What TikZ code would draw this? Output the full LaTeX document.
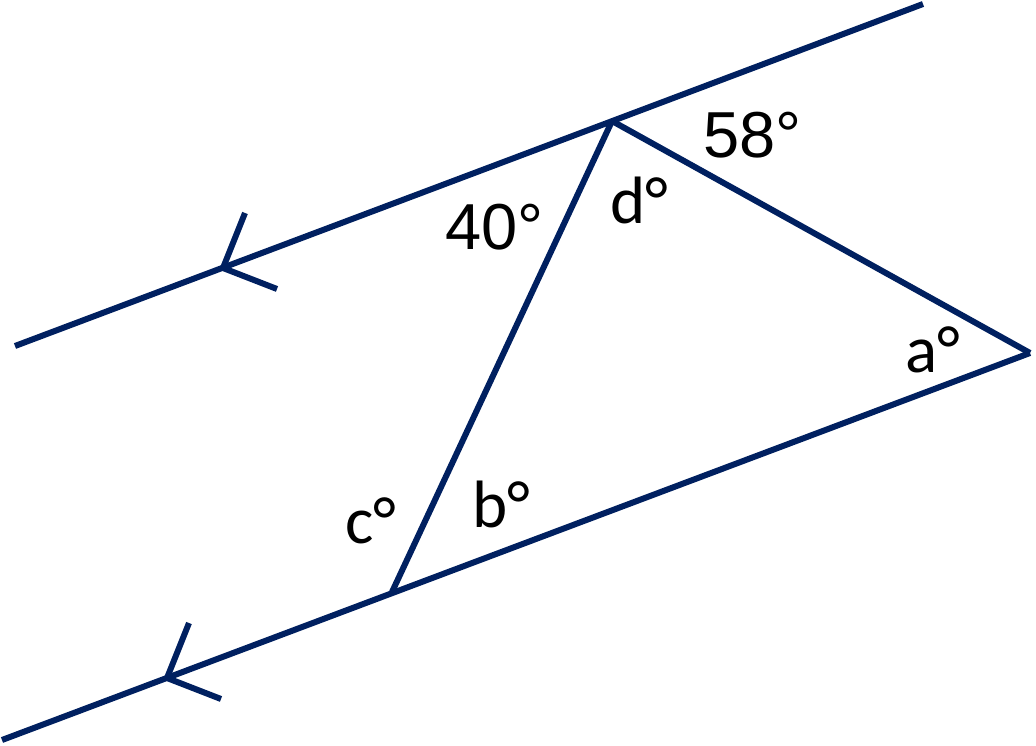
\documentclass[tikz,border=0pt]{standalone}
\usepackage{fontspec}
\setmainfont{Carlito}
\newfontfamily\numfont{Liberation Sans}
\usepackage{xcolor}
\usepackage{tikz}
\usetikzlibrary{positioning, calc}
\definecolor{linenavy}{RGB}{0,32,96}
\tikzset{
    edge/.style={
        draw=linenavy,
        line width=6pt,
        line cap=butt,
        line join=miter
    },
    chevron/.style={
        draw=linenavy,
        line width=6pt,
        line cap=butt,
        line join=miter
    },
    anglabel/.style={
        inner sep=0pt,
        anchor=base west,
        font=\fontsize{67}{80}\selectfont
    },
    givenlabel/.style={
        inner sep=0pt,
        anchor=base west,
        font=\numfont\fontsize{65}{78}\selectfont
    }
}

\begin{document}
\begin{tikzpicture}[x=1pt, y=-1pt]
\useasboundingbox (0,0) rectangle (1036,746);

% Points on the two parallel lines
\coordinate (upL) at (15,346);
\coordinate (upR) at (923,4);
\coordinate (top) at (612,121);
\coordinate (loL) at (2,740);
\coordinate (bot) at (392,592);
\coordinate (apex) at (1030,353);

% Parallel marks
\coordinate (markU) at (223,268);
\coordinate (markL) at (167,678);

% Lines
\draw[edge] (upL) -- (upR);
\draw[edge] (loL) -- (apex);
\draw[edge] (top) -- (bot);
\draw[edge] (top) -- (apex);

\draw[chevron] ($(markU)+(22,-55)$) -- (markU) -- ++(54,21);
\draw[chevron] ($(markL)+(22,-55)$) -- (markL) -- ++(54,21);

% Angle labels
\node[givenlabel] (ang58) at (703,158) {58°};
\node[givenlabel] (ang40) at (445,249) {40°};
\node[anglabel] (angd) at (610,223) {d°};
\node[anglabel] (anga) at (905,372) {a°};
\node[anglabel] (angc) at (345,543) {c°};
\node[anglabel] (angb) at (472,527) {b°};

\end{tikzpicture}
\end{document}
